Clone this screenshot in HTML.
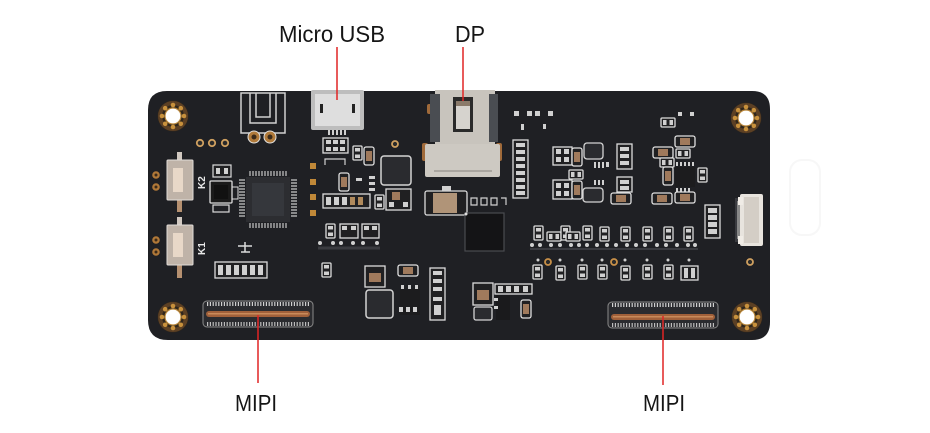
<!DOCTYPE html>
<html><head><meta charset="utf-8"><style>html,body{margin:0;padding:0;background:#fff}svg{display:block}</style></head>
<body>
<svg width="930" height="433" viewBox="0 0 930 433" xmlns="http://www.w3.org/2000/svg">
<defs>
 <g id="hole">
  <circle r="15.5" fill="#2f261c"/>
  <circle r="13" fill="none" stroke="#5c4024" stroke-width="4"/>
  <circle cx="11" cy="0" r="2.3" fill="#c8913c"/><circle cx="7.8" cy="7.8" r="2.3" fill="#c8913c"/>
  <circle cx="0" cy="11" r="2.3" fill="#c8913c"/><circle cx="-7.8" cy="7.8" r="2.3" fill="#c8913c"/>
  <circle cx="-11" cy="0" r="2.3" fill="#c8913c"/><circle cx="-7.8" cy="-7.8" r="2.3" fill="#c8913c"/>
  <circle cx="0" cy="-11" r="2.3" fill="#c8913c"/><circle cx="7.8" cy="-7.8" r="2.3" fill="#c8913c"/>
  <circle r="8" fill="#fff" stroke="#b8863a" stroke-width="1.2"/>
 </g>
 <g id="rv">
  <rect x="0" y="0" width="9" height="14" rx="1" fill="#202022" stroke="#dcdcdc" stroke-width="1.3"/>
  <rect x="2" y="2" width="5" height="3.5" fill="#d0d0d0"/><rect x="2" y="8.5" width="5" height="3.5" fill="#d0d0d0"/>
 </g>
 <g id="rh">
  <rect x="0" y="0" width="14" height="9" rx="1" fill="#202022" stroke="#dcdcdc" stroke-width="1.3"/>
  <rect x="2" y="2" width="3.5" height="5" fill="#d0d0d0"/><rect x="8.5" y="2" width="3.5" height="5" fill="#d0d0d0"/>
 </g>
 <g id="cv">
  <rect x="0" y="0" width="10" height="18" rx="2" fill="#202022" stroke="#e0e0e0" stroke-width="1.3"/>
  <rect x="2" y="4" width="6" height="10" fill="#a07a5c"/>
 </g>
 <g id="ch">
  <rect x="0" y="0" width="20" height="11" rx="2" fill="#202022" stroke="#e0e0e0" stroke-width="1.3"/>
  <rect x="5" y="2" width="10" height="7" fill="#a07a5c"/>
 </g>
</defs>

<!-- faint shape at right -->
<rect x="790" y="160" width="30" height="75" rx="12" fill="none" stroke="#f7f7f7" stroke-width="2"/>

<!-- board -->
<path d="M167,91 H752 Q770,91 770,109 V322 Q770,340 752,340 H168 Q148,340 148,320 V110 Q148,91 167,91 Z" fill="#1f2024"/>

<!-- holes -->
<use href="#hole" x="173" y="116"/>
<use href="#hole" x="173" y="317"/>
<use href="#hole" x="746" y="118"/>
<use href="#hole" x="747" y="317"/>

<!-- antenna outline -->
<g fill="none" stroke="#d0d0d0" stroke-width="1.5">
 <rect x="241" y="93" width="44" height="40"/>
 <path d="M250,93 V123 H276 V93"/>
 <path d="M256,93 V117 H270 V93"/>
</g>
<circle cx="254" cy="137" r="6" fill="#b07a3a" stroke="#e0e0e0" stroke-width="1"/>
<circle cx="270" cy="137" r="6" fill="#b07a3a" stroke="#e0e0e0" stroke-width="1"/>
<circle cx="254" cy="137" r="2.5" fill="#3a2a1a"/><circle cx="270" cy="137" r="2.5" fill="#3a2a1a"/>

<!-- vias -->
<g fill="#2a2a2a" stroke="#cfa060" stroke-width="1.8">
 <circle cx="200" cy="143" r="3.2"/><circle cx="212" cy="143" r="3.2"/><circle cx="225" cy="143" r="3.2"/>
 <circle cx="395" cy="144" r="3"/><circle cx="750" cy="262" r="3"/>
</g>

<!-- micro USB -->
<rect x="311" y="90" width="53" height="40" rx="2" fill="#bdbdbd"/>
<rect x="315" y="94" width="45" height="32" fill="#dedede"/>
<rect x="320" y="104" width="3" height="9" fill="#222"/>
<rect x="352" y="104" width="3" height="9" fill="#222"/>
<g fill="#cfcfcf"><rect x="328" y="130" width="2" height="5"/><rect x="332" y="130" width="2" height="5"/><rect x="336" y="130" width="2" height="5"/><rect x="340" y="130" width="2" height="5"/><rect x="344" y="130" width="2" height="5"/></g>

<!-- DP connector -->
<rect x="427" y="104" width="6" height="10" rx="2" fill="#a06a3a"/>
<rect x="490" y="104" width="6" height="10" rx="2" fill="#a06a3a"/>
<rect x="422" y="143" width="6" height="18" rx="2" fill="#a06a3a"/>
<rect x="496" y="143" width="6" height="18" rx="2" fill="#a06a3a"/>
<rect x="435" y="90" width="60" height="56" fill="#c8c4bd"/>
<rect x="430" y="94" width="10" height="48" fill="#4a4d52"/>
<rect x="489" y="94" width="9" height="48" fill="#4a4d52"/>
<rect x="425" y="144" width="75" height="33" rx="2" fill="#cdc9c2"/>
<rect x="453" y="97" width="20" height="35" fill="#2a2a2a"/>
<rect x="456" y="101" width="14" height="28" fill="#d6d3ce"/>
<rect x="456" y="101" width="14" height="5" fill="#8a7a6a"/>
<rect x="434" y="170" width="58" height="2" fill="#aaa6a0"/>

<!-- column resistors right of DP -->
<rect x="513" y="140" width="15" height="58" fill="#202022" stroke="#dcdcdc" stroke-width="1.3"/>
<g fill="#d0d0d0">
 <rect x="516" y="143" width="9" height="4"/><rect x="516" y="150" width="9" height="4"/><rect x="516" y="157" width="9" height="4"/><rect x="516" y="164" width="9" height="4"/><rect x="516" y="171" width="9" height="4"/><rect x="516" y="178" width="9" height="4"/><rect x="516" y="185" width="9" height="4"/><rect x="516" y="191" width="9" height="4"/>
</g>

<!-- small parts top -->
<g fill="#d0d0d0"><rect x="514" y="111" width="5" height="5"/><rect x="527" y="111" width="5" height="5"/><rect x="535" y="111" width="5" height="5"/><rect x="548" y="111" width="5" height="5"/><rect x="521" y="124" width="3" height="6"/><rect x="543" y="124" width="3" height="5"/>
<rect x="678" y="112" width="4" height="4"/><rect x="690" y="112" width="4" height="4"/></g>
<use href="#rh" x="661" y="118"/>

<!-- K buttons -->
<rect x="177" y="152" width="5" height="9" fill="#d0c8c0"/>
<rect x="177" y="199" width="5" height="13" fill="#b59070"/>
<rect x="167" y="160" width="26" height="40" rx="1" fill="#bfb3a8" stroke="#e0dcd8" stroke-width="1"/>
<rect x="173" y="168" width="10" height="24" fill="#e8d8c8"/>
<rect x="177" y="217" width="5" height="9" fill="#d0c8c0"/>
<rect x="177" y="265" width="5" height="13" fill="#b59070"/>
<rect x="167" y="225" width="26" height="40" rx="1" fill="#bfb3a8" stroke="#e0dcd8" stroke-width="1"/>
<rect x="173" y="233" width="10" height="24" fill="#e8d8c8"/>
<g fill="#b07838"><circle cx="156" cy="175" r="3.8"/><circle cx="156" cy="187" r="3.8"/><circle cx="156" cy="240" r="3.8"/><circle cx="156" cy="252" r="3.8"/></g>
<g fill="#3a2a1a"><circle cx="156" cy="175" r="1.5"/><circle cx="156" cy="187" r="1.5"/><circle cx="156" cy="240" r="1.5"/><circle cx="156" cy="252" r="1.5"/></g>
<text x="0" y="0" transform="translate(205,189) rotate(-90)" font-family="Liberation Sans, sans-serif" font-size="10" font-weight="bold" fill="#e8e8e8">K2</text>
<text x="0" y="0" transform="translate(205,255) rotate(-90)" font-family="Liberation Sans, sans-serif" font-size="10" font-weight="bold" fill="#e8e8e8">K1</text>

<!-- part left of chip -->
<rect x="213" y="165" width="18" height="12" fill="#202022" stroke="#dcdcdc" stroke-width="1.2"/>
<rect x="216" y="168" width="4" height="6" fill="#d0d0d0"/><rect x="224" y="168" width="4" height="6" fill="#d0d0d0"/>
<rect x="210" y="181" width="22" height="22" rx="1" fill="#1a1a1a" stroke="#dcdcdc" stroke-width="1.3"/>
<rect x="214" y="185" width="14" height="14" fill="#111"/>
<rect x="232" y="187" width="6" height="12" fill="none" stroke="#dcdcdc" stroke-width="1"/>
<rect x="213" y="205" width="16" height="7" fill="none" stroke="#dcdcdc" stroke-width="1.2"/>

<!-- QFP chip -->
<g stroke="#c8c8c8" stroke-width="1.2">
 <path d="M250,171 V176 M253,171 V176 M256,171 V176 M259,171 V176 M262,171 V176 M265,171 V176 M268,171 V176 M271,171 V176 M274,171 V176 M277,171 V176 M280,171 V176 M283,171 V176 M286,171 V176"/>
 <path d="M250,223 V228 M253,223 V228 M256,223 V228 M259,223 V228 M262,223 V228 M265,223 V228 M268,223 V228 M271,223 V228 M274,223 V228 M277,223 V228 M280,223 V228 M283,223 V228 M286,223 V228"/>
 <path d="M239,180 H245 M239,183 H245 M239,186 H245 M239,189 H245 M239,192 H245 M239,195 H245 M239,198 H245 M239,201 H245 M239,204 H245 M239,207 H245 M239,210 H245 M239,213 H245 M239,216 H245"/>
 <path d="M291,180 H297 M291,183 H297 M291,186 H297 M291,189 H297 M291,192 H297 M291,195 H297 M291,198 H297 M291,201 H297 M291,204 H297 M291,207 H297 M291,210 H297 M291,213 H297 M291,216 H297"/>
</g>
<rect x="246" y="177" width="44" height="45" fill="#2c2d31"/>
<rect x="252" y="183" width="32" height="33" fill="#35373c"/>

<!-- gold pads -->
<g fill="#c08838"><rect x="310" y="163" width="6" height="6"/><rect x="310" y="179" width="6" height="6"/><rect x="310" y="194" width="6" height="6"/><rect x="310" y="210" width="6" height="6"/></g>

<!-- header -->
<rect x="215" y="262" width="52" height="16" fill="#202022" stroke="#dcdcdc" stroke-width="1.3"/>
<g fill="#d0d0d0"><rect x="218" y="265" width="5" height="10"/><rect x="226" y="265" width="5" height="10"/><rect x="234" y="265" width="5" height="10"/><rect x="242" y="265" width="5" height="10"/><rect x="250" y="265" width="5" height="10"/><rect x="258" y="265" width="5" height="10"/></g>
<path d="M238,246 H252 M245,242 V252 M241,252 H250" stroke="#dcdcdc" stroke-width="1.5" fill="none"/>

<!-- middle-left components -->
<rect x="323" y="138" width="25" height="15" fill="#202022" stroke="#dcdcdc" stroke-width="1.3"/>
<g fill="#d0d0d0"><rect x="326" y="140" width="5" height="4"/><rect x="333" y="140" width="5" height="4"/><rect x="340" y="140" width="5" height="4"/><rect x="326" y="147" width="5" height="4"/><rect x="333" y="147" width="5" height="4"/><rect x="340" y="147" width="5" height="4"/></g>
<path d="M325,165 V159 H345 V165" stroke="#d0d0d0" stroke-width="1.2" fill="none"/>
<use href="#rv" x="353" y="146"/>
<use href="#cv" x="364" y="147"/>
<rect x="381" y="156" width="30" height="29" rx="3" fill="#2a2b2f" stroke="#d4d4d4" stroke-width="1.5"/>
<use href="#cv" x="339" y="173"/>
<g fill="#d0d0d0"><rect x="356" y="178" width="6" height="3"/><rect x="369" y="176" width="6" height="3"/><rect x="369" y="182" width="6" height="3"/><rect x="369" y="188" width="6" height="3"/></g>
<rect x="323" y="194" width="47" height="14" fill="#202022" stroke="#dcdcdc" stroke-width="1.3"/>
<g fill="#d0d0d0"><rect x="326" y="197" width="5" height="8"/><rect x="334" y="197" width="5" height="8"/><rect x="342" y="197" width="5" height="8"/></g>
<g fill="#b08a5c"><rect x="350" y="197" width="5" height="8"/><rect x="358" y="197" width="5" height="8"/></g>
<use href="#rv" x="375" y="195"/>
<rect x="386" y="189" width="25" height="21" fill="#202022" stroke="#dcdcdc" stroke-width="1.3"/>
<rect x="392" y="192" width="8" height="8" fill="#a07a5c"/>
<g fill="#d0d0d0"><rect x="389" y="202" width="5" height="5"/><rect x="403" y="202" width="5" height="5"/></g>

<use href="#rv" x="326" y="224"/>
<rect x="340" y="224" width="18" height="14" fill="#202022" stroke="#dcdcdc" stroke-width="1.3"/>
<rect x="362" y="224" width="17" height="14" fill="#202022" stroke="#dcdcdc" stroke-width="1.3"/>
<g fill="#d0d0d0"><rect x="342" y="226" width="5" height="4"/><rect x="351" y="226" width="5" height="4"/><rect x="364" y="226" width="5" height="4"/><rect x="372" y="226" width="5" height="4"/></g>
<g fill="#d0d0d0"><circle cx="320" cy="243" r="2"/><circle cx="333" cy="243" r="2"/><circle cx="341" cy="243" r="2"/><circle cx="353" cy="243" r="2"/><circle cx="363" cy="243" r="2"/><circle cx="377" cy="243" r="2"/></g>
<path d="M318,248 H380" stroke="#3a3b40" stroke-width="3"/>
<use href="#rv" x="322" y="263"/>

<!-- lower middle -->
<rect x="365" y="266" width="20" height="21" fill="#202022" stroke="#dcdcdc" stroke-width="1.3"/>
<rect x="369" y="273" width="12" height="9" fill="#a07a5c"/>
<rect x="366" y="290" width="27" height="28" rx="3" fill="#2a2b2f" stroke="#d4d4d4" stroke-width="1.5"/>
<use href="#ch" x="398" y="265"/>
<rect x="400" y="289" width="20" height="26" fill="#1c1c1e"/>
<g fill="#d0d0d0"><rect x="401" y="285" width="3" height="4"/><rect x="408" y="285" width="3" height="4"/><rect x="415" y="285" width="3" height="4"/><rect x="399" y="307" width="4" height="5"/><rect x="406" y="307" width="4" height="5"/><rect x="413" y="307" width="4" height="5"/></g>
<rect x="430" y="268" width="15" height="52" fill="#202022" stroke="#dcdcdc" stroke-width="1.3"/>
<g fill="#d0d0d0"><rect x="433" y="271" width="9" height="4"/><rect x="433" y="279" width="9" height="4"/><rect x="433" y="287" width="9" height="4"/><rect x="433" y="297" width="9" height="4"/></g>
<rect x="434" y="305" width="7" height="10" fill="#d0d0d0"/>

<!-- crystal / big chip -->
<rect x="425" y="191" width="42" height="24" rx="2" fill="#202022" stroke="#dcdcdc" stroke-width="1.3"/>
<rect x="433" y="193" width="24" height="20" fill="#b09478"/>
<rect x="442" y="186" width="9" height="5" fill="#d0d0d0"/>
<g fill="none" stroke="#d0d0d0" stroke-width="1.2"><path d="M471,198 H477 V205 H471 Z M481,198 H487 V205 H481 Z M491,198 H497 V205 H491 Z M501,198 H506 V205"/></g>
<rect x="465" y="213" width="39" height="38" fill="#141416" stroke="#4a4b50" stroke-width="1.2"/>
<circle cx="466" cy="214" r="1.5" fill="#ddd"/>

<!-- bottom cluster -->
<rect x="473" y="283" width="20" height="22" fill="#202022" stroke="#dcdcdc" stroke-width="1.3"/>
<rect x="477" y="290" width="12" height="10" fill="#a07a5c"/>
<rect x="474" y="307" width="18" height="13" rx="2" fill="#2a2b2f" stroke="#d4d4d4" stroke-width="1.3"/>
<rect x="495" y="284" width="37" height="10" fill="#202022" stroke="#dcdcdc" stroke-width="1.3"/>
<rect x="496" y="295" width="14" height="25" fill="#1a1a1c"/>
<g fill="#d0d0d0"><rect x="498" y="286" width="5" height="6"/><rect x="506" y="286" width="5" height="6"/><rect x="514" y="286" width="5" height="6"/><rect x="523" y="286" width="5" height="6"/><rect x="494" y="298" width="4" height="3"/><rect x="494" y="306" width="4" height="3"/></g>
<use href="#cv" x="521" y="300"/>

<!-- right-middle clusters -->
<rect x="553" y="147" width="19" height="18" fill="#202022" stroke="#dcdcdc" stroke-width="1.3"/>
<g fill="#d0d0d0"><rect x="556" y="149" width="5" height="5"/><rect x="564" y="149" width="5" height="5"/><rect x="556" y="157" width="5" height="5"/><rect x="564" y="157" width="5" height="5"/></g>
<use href="#cv" x="572" y="148"/>
<rect x="584" y="143" width="19" height="16" rx="3" fill="#2a2b2f" stroke="#d4d4d4" stroke-width="1.3"/>
<g fill="#d0d0d0"><rect x="594" y="162" width="2" height="6"/><rect x="598" y="162" width="2" height="6"/><rect x="602" y="162" width="2" height="6"/><rect x="606" y="162" width="3" height="5"/></g>
<use href="#rh" x="569" y="170"/>
<rect x="553" y="180" width="19" height="19" fill="#202022" stroke="#dcdcdc" stroke-width="1.3"/>
<g fill="#d0d0d0"><rect x="556" y="183" width="5" height="5"/><rect x="564" y="183" width="5" height="5"/><rect x="556" y="191" width="5" height="5"/><rect x="564" y="191" width="5" height="5"/></g>
<use href="#cv" x="572" y="181"/>
<rect x="583" y="188" width="20" height="14" rx="3" fill="#2a2b2f" stroke="#d4d4d4" stroke-width="1.3"/>
<g fill="#d0d0d0"><rect x="594" y="180" width="2" height="5"/><rect x="598" y="180" width="2" height="5"/><rect x="602" y="180" width="2" height="5"/></g>
<rect x="617" y="144" width="15" height="25" fill="#202022" stroke="#dcdcdc" stroke-width="1.3"/>
<g fill="#d0d0d0"><rect x="620" y="147" width="9" height="4"/><rect x="620" y="154" width="9" height="4"/><rect x="620" y="161" width="9" height="4"/></g>
<rect x="617" y="177" width="15" height="15" fill="#202022" stroke="#dcdcdc" stroke-width="1.3"/>
<g fill="#d0d0d0"><rect x="620" y="180" width="9" height="4"/><rect x="620" y="186" width="9" height="4"/></g>
<use href="#ch" x="611" y="193"/>

<use href="#ch" x="653" y="147"/>
<use href="#ch" x="675" y="136"/>
<use href="#rh" x="676" y="149"/>
<use href="#rh" x="660" y="158"/>
<use href="#cv" x="663" y="167"/>
<rect x="675" y="167" width="20" height="20" fill="#1c1c1e"/>
<g fill="#d0d0d0"><rect x="676" y="162" width="2" height="4"/><rect x="680" y="162" width="2" height="4"/><rect x="684" y="162" width="2" height="4"/><rect x="688" y="162" width="2" height="4"/><rect x="692" y="162" width="2" height="4"/><rect x="676" y="188" width="2" height="4"/><rect x="680" y="188" width="2" height="4"/><rect x="684" y="188" width="2" height="4"/><rect x="688" y="188" width="2" height="4"/></g>
<use href="#rv" x="698" y="168"/>
<use href="#ch" x="652" y="193"/>
<use href="#ch" x="675" y="192"/>

<rect x="705" y="205" width="15" height="33" fill="#202022" stroke="#dcdcdc" stroke-width="1.3"/>
<g fill="#d0d0d0"><rect x="708" y="208" width="9" height="5"/><rect x="708" y="215" width="9" height="5"/><rect x="708" y="222" width="9" height="5"/><rect x="708" y="229" width="9" height="5"/></g>

<!-- right FPC connector -->
<rect x="735" y="198" width="6" height="44" fill="#3a3b40"/>
<rect x="737" y="201" width="4" height="38" fill="#888"/>
<rect x="740" y="194" width="23" height="52" rx="2" fill="#e8e4de"/>
<rect x="744" y="197" width="15" height="46" fill="#d4cec6"/>
<rect x="738" y="197" width="5" height="8" fill="#f0ece6"/>
<rect x="738" y="236" width="5" height="8" fill="#f0ece6"/>

<!-- row of small components -->
<use href="#rv" x="534" y="226"/>
<use href="#rh" x="547" y="232"/>
<use href="#rv" x="561" y="226"/>
<use href="#rh" x="566" y="232"/>
<use href="#rv" x="583" y="226"/>
<use href="#rv" x="600" y="227"/>
<use href="#rv" x="621" y="227"/>
<use href="#rv" x="643" y="227"/>
<use href="#rv" x="664" y="227"/>
<use href="#rv" x="684" y="227"/>
<g fill="#d0d0d0">
 <circle cx="532" cy="245" r="2"/><circle cx="540" cy="245" r="2"/><circle cx="551" cy="245" r="2"/><circle cx="560" cy="245" r="2"/><circle cx="571" cy="245" r="2"/><circle cx="579" cy="245" r="2"/><circle cx="587" cy="245" r="2"/><circle cx="597" cy="245" r="2"/><circle cx="607" cy="245" r="2"/><circle cx="616" cy="245" r="2"/><circle cx="627" cy="245" r="2"/><circle cx="636" cy="245" r="2"/><circle cx="645" cy="245" r="2"/><circle cx="657" cy="245" r="2"/><circle cx="666" cy="245" r="2"/><circle cx="677" cy="245" r="2"/><circle cx="688" cy="245" r="2"/><circle cx="695" cy="245" r="2"/>
</g>
<path d="M530,249 H698" stroke="#3a3b40" stroke-width="2"/>
<g fill="#2a2a2a" stroke="#c89048" stroke-width="1.8"><circle cx="548" cy="262" r="3"/><circle cx="614" cy="262" r="3"/></g>
<use href="#rv" x="533" y="265"/>
<use href="#rv" x="556" y="266"/>
<use href="#rv" x="578" y="265"/>
<use href="#rv" x="598" y="265"/>
<use href="#rv" x="621" y="266"/>
<use href="#rv" x="643" y="265"/>
<use href="#rv" x="664" y="265"/>
<rect x="681" y="266" width="17" height="14" fill="#202022" stroke="#dcdcdc" stroke-width="1.3"/>
<g fill="#d0d0d0"><rect x="684" y="268" width="4" height="10"/><rect x="691" y="268" width="4" height="10"/></g>
<g fill="#d0d0d0"><circle cx="538" cy="260" r="1.5"/><circle cx="560" cy="260" r="1.5"/><circle cx="582" cy="260" r="1.5"/><circle cx="602" cy="260" r="1.5"/><circle cx="625" cy="260" r="1.5"/><circle cx="647" cy="260" r="1.5"/><circle cx="668" cy="260" r="1.5"/><circle cx="689" cy="260" r="1.5"/></g>

<!-- MIPI connectors -->
<g>
 <rect x="203" y="301" width="110" height="26" rx="4" fill="#2a2b2f" stroke="#8a8a8a" stroke-width="1"/>
 <path d="M207,304 H309" stroke="#d0d0d0" stroke-width="4" stroke-dasharray="1.2,1.6"/>
 <path d="M207,324 H309" stroke="#bdbdbd" stroke-width="4" stroke-dasharray="1.2,1.6"/>
 <rect x="206" y="311" width="104" height="6" rx="3" fill="#a0603a"/>
 <rect x="208" y="313" width="100" height="1.5" fill="#c88a5a"/>
</g>
<g>
 <rect x="608" y="302" width="110" height="26" rx="4" fill="#2a2b2f" stroke="#8a8a8a" stroke-width="1"/>
 <path d="M612,305 H714" stroke="#d0d0d0" stroke-width="4" stroke-dasharray="1.2,1.6"/>
 <path d="M612,325 H714" stroke="#bdbdbd" stroke-width="4" stroke-dasharray="1.2,1.6"/>
 <rect x="611" y="314" width="104" height="6" rx="3" fill="#a0603a"/>
 <rect x="613" y="316" width="100" height="1.5" fill="#c88a5a"/>
</g>

<!-- leader lines -->
<g stroke="#e02424" stroke-width="1.5">
 <line x1="337" y1="47" x2="337" y2="100"/>
 <line x1="463" y1="47" x2="463" y2="101"/>
 <line x1="258" y1="315" x2="258" y2="383"/>
 <line x1="663" y1="316" x2="663" y2="385"/>
</g>

<!-- labels -->
<g font-family="Liberation Sans, sans-serif" font-size="23.5" fill="#151515">
 <text x="279" y="42" textLength="106" lengthAdjust="spacingAndGlyphs">Micro USB</text>
 <text x="455" y="42" textLength="30" lengthAdjust="spacingAndGlyphs">DP</text>
 <text x="235" y="411" textLength="42" lengthAdjust="spacingAndGlyphs">MIPI</text>
 <text x="643" y="411" textLength="42" lengthAdjust="spacingAndGlyphs">MIPI</text>
</g>
</svg>
</body></html>
